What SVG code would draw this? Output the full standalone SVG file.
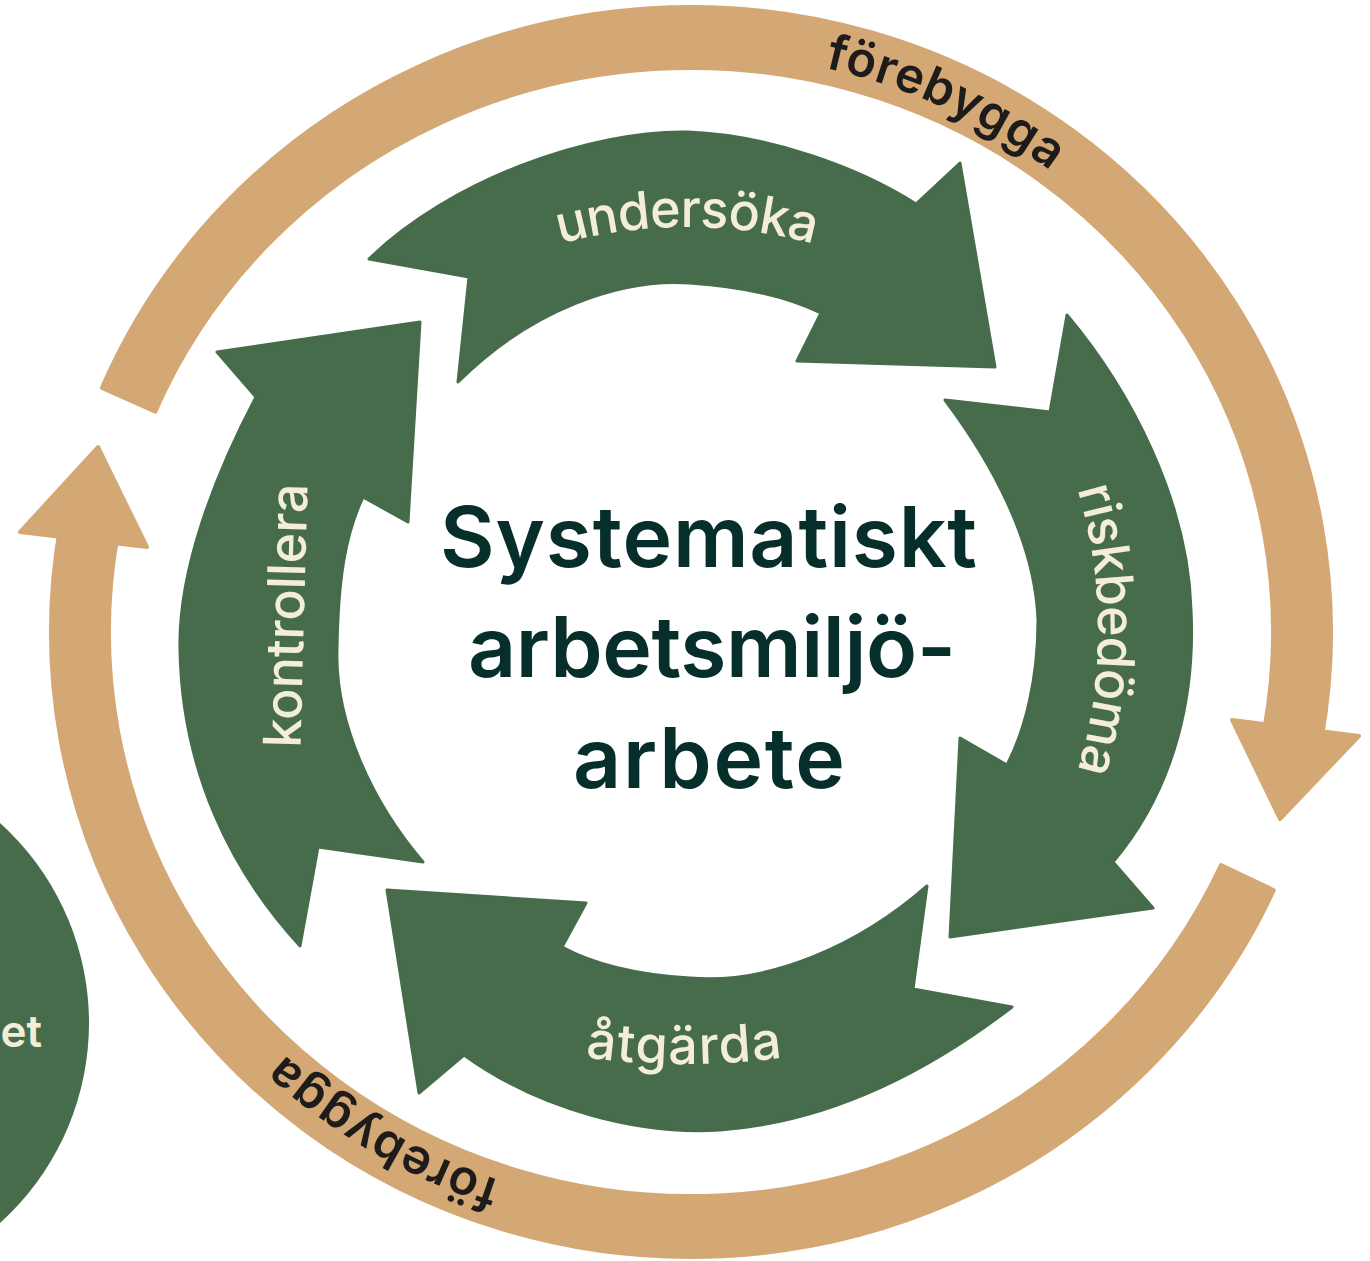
<svg xmlns="http://www.w3.org/2000/svg" width="1370" height="1261" viewBox="0 0 1370 1261">
<style>
.tan{fill:#d4a874;stroke:#d4a874;stroke-width:4;stroke-linejoin:round}
.grn{fill:#466c4b;stroke:#466c4b;stroke-width:3;stroke-linejoin:round}
.lbl{font-family:Inter,"Liberation Sans",sans-serif;font-weight:500;font-size:52px;fill:#f4edd8}
.ring{font-family:Inter,"Liberation Sans",sans-serif;font-weight:600;font-size:49px;fill:#1e1c1a}
.title{font-family:Inter,"Liberation Sans",sans-serif;font-weight:600;font-size:84px;fill:#062e2a}
</style>
<defs>
<path id="pTop" d="M824.8,67.8 A595,579 0 0 1 1206.3,342.5"/>
<path id="pBot" d="M500.2,1180.4 A595,579 0 0 1 131.9,830"/>
<path id="pUnd" d="M318.5,398.8 A481,481 0 0 1 1055.5,398.8"/>
<path id="pRisk" d="M921.9,252.3 A493,493 0 0 1 921.9,1007.7"/>
<path id="pAtg" d="M436,1020.3 A724,724 0 0 0 932,1020.3"/>
</defs>
<rect width="1370" height="1261" fill="#ffffff"/>

<g id="side-node">
<circle cx="-180" cy="1023" r="269" fill="#466c4b"/>
<text x="42" y="1047" text-anchor="end" style="font-family:Inter,'Liberation Sans',sans-serif;font-weight:600;font-size:44px;fill:#f4edd8">et</text>
</g>

<g id="connectors">
<g id="forebygga-top">
<path class="tan" d="M101.9,387.8 A640,625 0 0 1 1321.3,740.5 L1264.2,729.9 A582,564 0 0 0 155.3,411.6 Z"/>
<polygon class="tan" points="1232,720 1359,736 1280,819"/>
<text class="ring"><textPath href="#pTop" textLength="250">förebygga</textPath></text>
</g>
<g id="forebygga-bottom">
<path class="tan" d="M1273.8,890.2 A640,625 0 0 1 60.7,523.5 L117.8,534.1 A582,564 0 0 0 1221.0,865.0 Z"/>
<polygon class="tan" points="20,532 98,447 147,547"/>
<text class="ring"><textPath href="#pBot" textLength="252">förebygga</textPath></text>
</g>
</g>

<g id="node-undersoka">
<path class="grn" d="M369,259 L469,277 L458,382 C530,310 620,278 690,283 C750,287 790,298 821,313 L797,361 L995,367 L960,163 L916,204 C860,168 770,135 688,132 C590,130 450,180 369,259 Z"/>
<text class="lbl"><textPath href="#pUnd" startOffset="50%" text-anchor="middle" textLength="257">undersöka</textPath></text>
</g>

<g id="node-riskbedoma">
<path class="grn" d="M1067,315 L1050,412 L945,400 C990,460 1035,540 1038,620 C1038,680 1025,730 1007,765 L960,738 L950,937 L1153,908 L1113,862 C1178,785 1195,690 1191,610 C1188,500 1130,390 1067,315 Z"/>
<text class="lbl"><textPath href="#pRisk" startOffset="50%" text-anchor="middle" textLength="286">riskbedöma</textPath></text>
</g>

<g id="node-atgarda">
<path class="grn" d="M1012,1007 L913,989 L927,886 C860,945 770,985 690,978 C640,975 595,965 562,947 L586,903 L387,890 L419,1093 L464,1055 C540,1110 640,1135 720,1130 C830,1122 930,1070 1012,1007 Z"/>
<text class="lbl"><textPath href="#pAtg" startOffset="50%" text-anchor="middle" textLength="198">åtgärda</textPath></text>
</g>

<g id="node-kontrollera">
<path class="grn" d="M420,322 L217,352 L256,397 C215,475 178,570 180,650 C182,770 230,870 300,946 L318,847 L423,862 C370,800 335,720 337,650 C338,580 345,535 363,497 L408,522 Z"/>
<text class="lbl" transform="translate(304,616) rotate(-88.5)" text-anchor="middle" textLength="264">kontrollera</text>
</g>

<g id="node-center">
<text class="title" x="440" y="567" textLength="537">Systematiskt</text>
<text class="title" x="468" y="677" textLength="488">arbetsmiljö-</text>
<text class="title" x="573" y="788" textLength="272">arbete</text>
</g>
</svg>
